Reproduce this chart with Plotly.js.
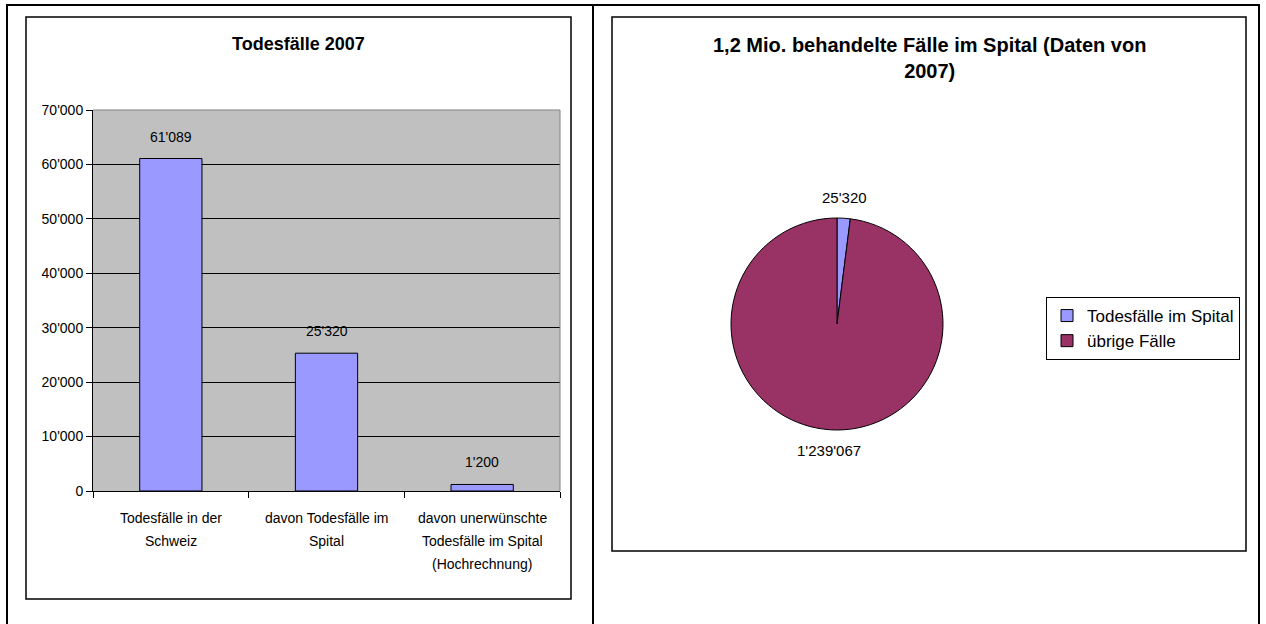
<!DOCTYPE html>
<html>
<head>
<meta charset="utf-8">
<script src="https://cdn.plot.ly/plotly-3.0.1.min.js"></script>
<style>
html,body{margin:0;padding:0;background:#fff;}
#chart{width:1266px;height:624px;}
</style>
</head>
<body>
<div id="chart"></div>
<script>
// ---- data ----
var barCategories = ["Todesfälle in der<br>Schweiz", "davon Todesfälle im<br>Spital", "davon unerwünschte<br>Todesfälle im Spital<br>(Hochrechnung)"];
var barValues = [61089, 25320, 1200];
var barTitle = "Todesfälle 2007";
var yTickValues = [0, 10000, 20000, 30000, 40000, 50000, 60000, 70000];

var pieLabels = ["Todesfälle im Spital", "übrige Fälle"];
var pieValues = [25320, 1239067];
var pieColors = ["#9999FF", "#993366"];
var pieTitle = "1,2 Mio. behandelte Fälle im Spital (Daten von<br>2007)";

// ---- helpers ----
var W = 1266, H = 624;
function px(x){ return x / W; }
function py(y){ return 1 - y / H; }
function fmt(v){ return String(v).replace(/\B(?=(\d{3})+(?!\d))/g, "'"); }
var FONT = "Liberation Sans, Arial, Helvetica, sans-serif";

var catIdx = barCategories.map(function(_, i){ return i; });

var barTrace = {
  type: "bar",
  x: catIdx,
  y: barValues,
  width: 0.4,
  marker: {color: "#9999FF", line: {color: "#000000", width: 1}},
  showlegend: false,
  hoverinfo: "none",
  xaxis: "x", yaxis: "y"
};

// pie placement (pixels of the page)
var pieBox = {x0: 731, x1: 943, y0: 216, y1: 432};
var pieTrace = {
  type: "pie",
  labels: pieLabels,
  values: pieValues,
  textinfo: "none",
  sort: false,
  direction: "clockwise",
  rotation: 0,
  marker: {colors: pieColors, line: {color: "#000000", width: 1}},
  domain: {x: [px(pieBox.x0), px(pieBox.x1)], y: [py(pieBox.y1), py(pieBox.y0)]},
  hoverinfo: "none",
  showlegend: true
};

var annotations = [];
// chart titles
annotations.push({xref: "paper", yref: "paper", x: px(298), y: py(44), text: "<b>" + barTitle + "</b>",
  showarrow: false, xanchor: "center", yanchor: "middle", font: {family: FONT, size: 18, color: "#000"}});
annotations.push({xref: "paper", yref: "paper", x: px(929), y: py(58), text: "<b>" + pieTitle + "</b>",
  showarrow: false, xanchor: "center", yanchor: "middle", font: {family: FONT, size: 20, color: "#000"}});
// bar value labels
barValues.forEach(function(v, i){
  annotations.push({xref: "x", yref: "y", x: i, y: v, text: fmt(v), showarrow: false,
    xanchor: "center", yanchor: "bottom", yshift: 12, font: {family: FONT, size: 14, color: "#000"}});
});
// category labels (one annotation per line)
barCategories.forEach(function(c, i){
  c.split("<br>").forEach(function(line, j){
    annotations.push({xref: "x", yref: "paper", x: i, y: py(518 + j * 23), text: line, showarrow: false,
      xanchor: "center", yanchor: "middle", font: {family: FONT, size: 14, color: "#000"}});
  });
});
// pie value labels, placed outside each slice at its mid angle
(function(){
  var total = pieValues.reduce(function(a, b){ return a + b; }, 0);
  var cx = (pieBox.x0 + pieBox.x1) / 2, cy = (pieBox.y0 + pieBox.y1) / 2;
  var r = Math.min(pieBox.x1 - pieBox.x0, pieBox.y1 - pieBox.y0) / 2;
  var cum = 0;
  pieValues.forEach(function(v){
    var mid = (cum + v / 2) / total * 2 * Math.PI;
    cum += v;
    var d = r + 21;
    annotations.push({xref: "paper", yref: "paper",
      x: px(cx + d * Math.sin(mid)), y: py(cy - d * Math.cos(mid)),
      text: fmt(v), showarrow: false, xanchor: "center", yanchor: "middle",
      font: {family: FONT, size: 15, color: "#000"}});
  });
})();

var shapes = [];
function line(x0, y0, x1, y1, w, c){
  shapes.push({type: "line", xref: "paper", yref: "paper", x0: px(x0), y0: py(y0), x1: px(x1), y1: py(y1),
    line: {color: c || "#000", width: w}, layer: "above"});
}
// outer table frame
line(6, 5, 1260, 5, 2);
line(7, 4, 7, 624, 2);
line(593, 4, 593, 624, 2);
line(1259, 4, 1259, 624, 2);
// chart boxes
shapes.push({type: "rect", xref: "paper", yref: "paper", x0: px(26), y0: py(599), x1: px(571), y1: py(17),
  line: {color: "#000", width: 1.5}, fillcolor: "rgba(0,0,0,0)", layer: "above"});
shapes.push({type: "rect", xref: "paper", yref: "paper", x0: px(612), y0: py(551), x1: px(1246), y1: py(17),
  line: {color: "#000", width: 1.5}, fillcolor: "rgba(0,0,0,0)", layer: "above"});
// plot area top/right border (gray)
shapes.push({type: "line", xref: "x domain", yref: "y domain", x0: 0, y0: 1, x1: 1, y1: 1, line: {color: "#808080", width: 1}, layer: "above"});
shapes.push({type: "line", xref: "x domain", yref: "y domain", x0: 1, y0: 0, x1: 1, y1: 1, line: {color: "#808080", width: 1}, layer: "above"});

var layout = {
  width: W, height: H,
  margin: {l: 0, r: 0, t: 0, b: 0, pad: 0},
  paper_bgcolor: "#ffffff",
  plot_bgcolor: "#C0C0C0",
  separators: ".'",
  font: {family: FONT, size: 14, color: "#000"},
  xaxis: {
    domain: [px(93), px(560)],
    type: "linear",
    range: [-0.5, 2.5],
    tickvals: [-0.5, 0.5, 1.5, 2.5],
    showticklabels: false,
    ticks: "outside", ticklen: 6, tickcolor: "#000", tickwidth: 1,
    showgrid: false, zeroline: false,
    showline: true, linecolor: "#000", linewidth: 1,
    fixedrange: true
  },
  yaxis: {
    domain: [py(491), py(110)],
    range: [0, 70000],
    tickvals: yTickValues,
    tickformat: ",d",
    ticks: "outside", ticklen: 6, tickcolor: "#000", tickwidth: 1,
    showgrid: true, gridcolor: "#000", gridwidth: 1,
    zeroline: false,
    showline: true, linecolor: "#000", linewidth: 1,
    tickfont: {family: FONT, size: 14, color: "#000"},
    fixedrange: true
  },
  showlegend: true,
  legend: {
    x: px(1046), y: py(297), xanchor: "left", yanchor: "top",
    bordercolor: "#000", borderwidth: 1, bgcolor: "#fff",
    font: {family: FONT, size: 17, color: "#000"},
    itemwidth: 30,
    itemclick: false, itemdoubleclick: false
  },
  annotations: annotations,
  shapes: shapes
};

Plotly.newPlot("chart", [barTrace, pieTrace], layout, {staticPlot: true, displayModeBar: false});
</script>
</body>
</html>
